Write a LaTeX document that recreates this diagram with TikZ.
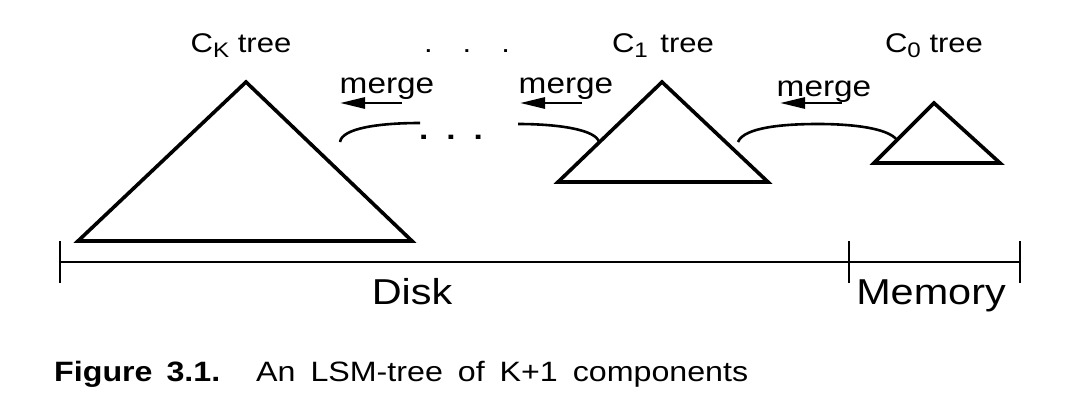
\documentclass[tikz,border=0pt]{standalone}
\usepackage{fontspec}
\setmainfont{Liberation Sans}[FakeStretch=1.15]
\usetikzlibrary{arrows.meta,positioning}

\begin{document}
\begin{tikzpicture}[x=1pt,y=-1pt]
  \tikzstyle{lsmtree}=[draw,line width=3.6pt,line join=miter]
  \tikzstyle{treename}=[font=\fontsize{27}{27}\selectfont,anchor=base,inner sep=0pt]
  \tikzstyle{mergename}=[font=\fontsize{29}{29}\selectfont,anchor=base,inner sep=0pt]
  \tikzstyle{mergearrow}=[line width=2.8pt,-{Triangle[length=25pt,width=11pt]}]
  \tikzstyle{flow}=[line width=2.6pt]
  \tikzstyle{tick}=[line width=1.4pt]
  \newcommand{\sub}[1]{\raisebox{-0.2em}{\fontsize{21}{21}\selectfont #1}}
  \newcommand{\gap}{\hspace{6pt} }
  \useasboundingbox (0,0) rectangle (1078,402);

  % the three trees
  \coordinate (Ktop) at (246,82);
  \coordinate (Kl) at (78,241);
  \coordinate (Kr) at (412,241);
  \draw[lsmtree] (Ktop) -- (Kl) -- (Kr) -- cycle;
  \coordinate (Atop) at (662,82);
  \coordinate (Al) at (558,182);
  \coordinate (Ar) at (768,182);
  \draw[lsmtree] (Atop) -- (Al) -- (Ar) -- cycle;
  \coordinate (Ztop) at (934,103);
  \coordinate (Zl) at (874,163);
  \coordinate (Zr) at (1000,163);
  \draw[lsmtree] (Ztop) -- (Zl) -- (Zr) -- cycle;

  \node[treename] (CK) at (241,52) {C\sub{K} tree};
  \node[treename] (dots) at (467,52) {.\hspace{30pt}.\hspace{30pt}.};
  \node[treename] (C1) at (663,52) {C\sub{1}\hspace{4pt} tree};
  \node[treename] (C0) at (934,52) {C\sub{0} tree};

  % merges
  \node[mergename] (m1) at (387,93) {merge};
  \node[mergename] (m2) at (566,93) {merge};
  \node[mergename] (m3) at (824,96) {merge};
  \coordinate (a1s) at (402,103);
  \coordinate (a1e) at (340,103);
  \coordinate (a2s) at (582,103);
  \coordinate (a2e) at (520,103);
  \coordinate (a3s) at (842,103);
  \coordinate (a3e) at (780,103);
  \draw[mergearrow] (a1s) -- (a1e);
  \draw[mergearrow] (a2s) -- (a2e);
  \draw[mergearrow] (a3s) -- (a3e);

  \coordinate (f1a) at (340,142);
  \coordinate (f1b) at (420,123);
  \draw[flow] (f1a) .. controls (342,128) and (380,123) .. (f1b);
  \node[mergename,font=\fontsize{29}{29}\bfseries] (mid) at (451,139) {.\hspace{18pt}.\hspace{18pt}.};
  \coordinate (f2a) at (518,124);
  \coordinate (f2b) at (599,142);
  \draw[flow] (f2a) .. controls (560,124) and (596,130) .. (f2b);
  \coordinate (f3a) at (738,142);
  \coordinate (f3m) at (818,124);
  \coordinate (f3b) at (897,140);
  \draw[flow] (f3a) .. controls (744,127) and (785,124) .. (f3m)
    .. controls (852,124) and (888,128) .. (f3b);

  % disk and memory scale
  \coordinate (s0) at (60,262);
  \coordinate (s1) at (849,262);
  \coordinate (s2) at (1020,262);
  \draw[line width=2.8pt] (s0) -- (s2);
  \foreach \p in {s0,s1,s2}
    \draw[tick] ([yshift=-21pt]\p) -- ([yshift=21pt]\p);
  \node[treename,font=\fontsize{36}{36}\selectfont] (disk) at (412,304) {Disk};
  \node[treename,font=\fontsize{36}{36}\selectfont] (mem) at (931,304) {Memory};

  % caption
  \node[treename,anchor=base west,font=\fontsize{28}{28}\bfseries] (fig) at (54,381) {Figure\hspace{5pt} 3.1.};
  \node[treename,anchor=base west,font=\fontsize{28}{28}\selectfont] (cap) at (256,381) {An\gap LSM-tree\gap of\gap K+1\gap components};
\end{tikzpicture}
\end{document}
